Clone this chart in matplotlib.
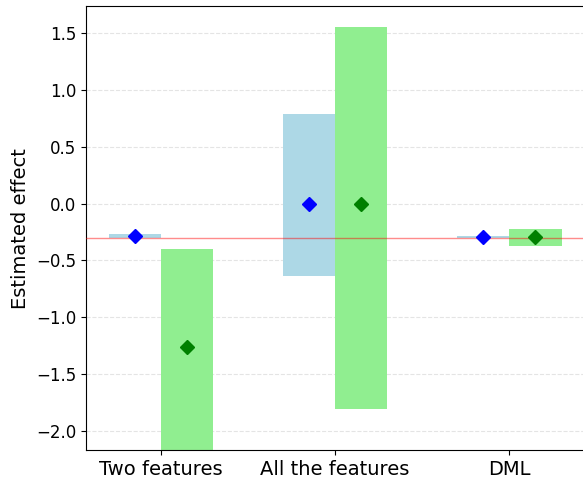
import numpy as np
import matplotlib
matplotlib.use("Agg")
import matplotlib.pyplot as plt

# interval estimates for each method: two models per method
methods = ["Two features", "All the features", "DML"]
blue_low = [-0.305, -0.635, -0.302]
blue_high = [-0.265, 0.790, -0.288]
blue_est = [-0.285, 0.0, -0.295]
green_low = [-2.40, -1.81, -0.375]
green_high = [-0.40, 1.55, -0.225]
green_est = [-1.265, 0.0, -0.295]
true_effect = -0.3

fig = plt.figure(figsize=(5.83, 4.83), dpi=100)
ax = fig.add_axes([0.1475, 0.0683, 0.8545, 0.919])

x = np.arange(len(methods))
w = 0.3
bl = np.array(blue_low)
bh = np.array(blue_high)
gl = np.array(green_low)
gh = np.array(green_high)

ax.bar(x - w / 2, bh - bl, bottom=bl, width=w, color="lightblue", zorder=2)
ax.bar(x + w / 2, gh - gl, bottom=gl, width=w, color="lightgreen", zorder=2)
ax.plot(x - w / 2, blue_est, "D", color="blue", markersize=7, zorder=4, linestyle="none")
ax.plot(x + w / 2, green_est, "D", color="green", markersize=7, zorder=4, linestyle="none")
ax.axhline(true_effect, color="red", alpha=0.45, linewidth=1, zorder=3)

ax.set_xlim(-0.43, 2.43)
ax.set_ylim(-2.167, 1.737)
ax.set_xticks(x)
ax.set_xticklabels(methods, fontsize=14)
ax.set_yticks(np.arange(-2.0, 1.51, 0.5))
ax.tick_params(axis="y", labelsize=12)
ax.set_ylabel("Estimated effect", fontsize=14)
ax.grid(axis="y", linestyle="--", color="lightgrey", alpha=0.6, zorder=0)
ax.set_axisbelow(True)

fig.savefig("out.png", dpi=100)
